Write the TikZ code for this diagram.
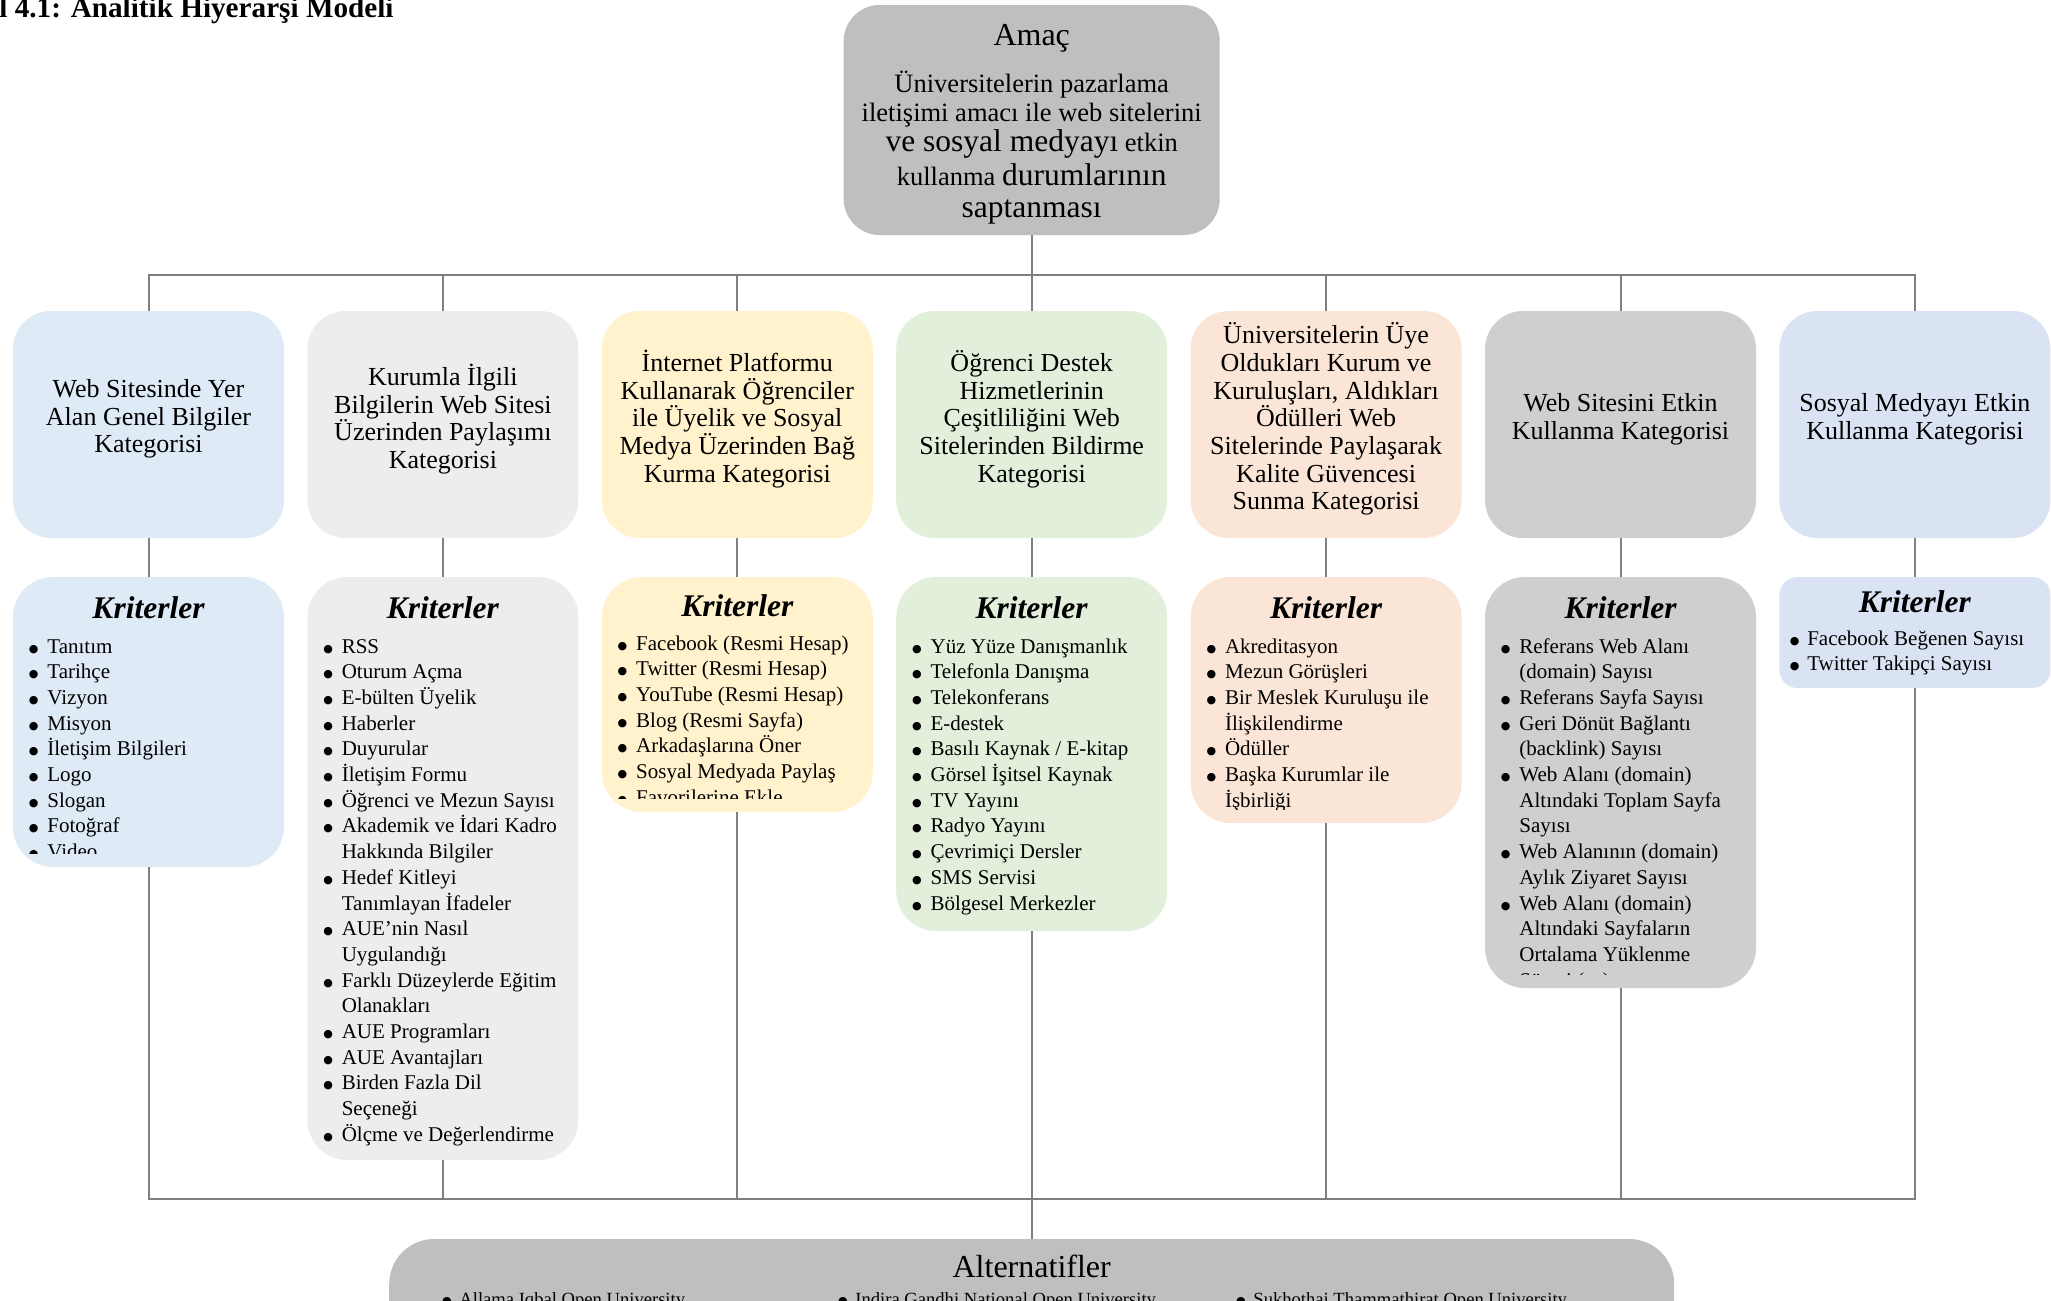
\documentclass[tikz,border=0pt]{standalone}
\usepackage{fontspec}
\setmainfont{Liberation Serif}
\newfontfamily\dotfont{DejaVu Sans}

\definecolor{linegray}{HTML}{7F7F7F}
\definecolor{amacgray}{HTML}{BFBFBF}
\definecolor{cblue}{HTML}{DEEAF6}
\definecolor{cgray}{HTML}{EDEDED}
\definecolor{cyellow}{HTML}{FFF2CC}
\definecolor{cgreen}{HTML}{E2EFDA}
\definecolor{corange}{HTML}{FBE5D6}
\definecolor{cdark}{HTML}{D0CECE}
\definecolor{clav}{HTML}{DAE3F3}

% fonts
\newcommand\critfont{\fontsize{10.5}{12.85}\selectfont\lineskiplimit=-100pt\relax}
\newcommand\catfont{\fontsize{13}{13.85}\selectfont\lineskiplimit=-100pt\relax}
\newcommand\kritfont{\fontsize{15.75}{18}\selectfont\bfseries\itshape}
\newcommand\amacfont{\fontsize{13.25}{15}\selectfont}
\newcommand\amacbig{\fontsize{15.75}{18}\selectfont}

% bullet lists with hanging indent
\newlength\bulw
\newcommand\nl{\hfil\break}
\newcommand\bigbul{\raisebox{0.5pt}{\dotfont\fontsize{5.5}{6}\selectfont ●}}
\newcommand\bitem[1]{\par\noindent\hangindent=\bulw\hangafter=1\hbox to\bulw{\bigbul\hfil}#1}
\newcommand\blist[2]{\vtop{\hsize=140pt\critfont\parindent=0pt\parskip=0pt\rightskip=0pt plus 1fil\setlength\bulw{#1}#2\par}}

\tikzset{
  conn/.style={draw=linegray, line width=1pt},
  catbox/.style={fill=#1, rounded corners=19pt, minimum width=135.5pt, minimum height=113.5pt, inner sep=0pt},
  critbox/.style 2 args={fill=#1, rounded corners=20pt, minimum width=135.5pt, minimum height=#2, inner sep=0pt},
  cattext/.style={align=center, font=\catfont, inner sep=0pt},
  krit/.style={anchor=base, font=\kritfont, inner sep=0pt},
  items/.style={anchor=base west, inner sep=0pt},
  amacline/.style={anchor=base, inner sep=0pt, font=\amacfont},
}

\begin{document}
\begin{tikzpicture}[x=0.5pt, y=-0.5pt]
\useasboundingbox (0,0) rectangle (2051,1301);
\clip (0,0) rectangle (2051,1301);

% heading
\node[anchor=base west, inner sep=0pt, font=\bfseries\fontsize{14.6}{17}\selectfont] (heading) at (-1,18) {l 4.1: Analitik Hiyerarşi Modeli};

% goal box
\node[fill=amacgray, rounded corners=18pt, minimum width=188pt, minimum height=115pt, inner sep=0pt] (amac) at (1031.7,120) {};
\node[amacline, font=\fontsize{16}{18}\selectfont] (amac-title) at (1031.7,45) {Amaç};
\node[amacline] (amac-l1) at (1031.7,92) {Üniversitelerin pazarlama};
\node[amacline] (amac-l2) at (1031.7,121) {iletişimi amacı ile web sitelerini};
\node[amacline] (amac-l3) at (1031.7,151) {{\amacbig ve sosyal medyayı} etkin};
\node[amacline] (amac-l4) at (1031.7,185) {kullanma {\amacbig durumlarının}};
\node[amacline] (amac-l5) at (1031.7,217) {{\amacbig saptanması}};

% category boxes
\node[catbox=cblue]   (cat1) at (148.5,424.5) {};
\node[catbox=cgray]   (cat2) at (442.9,424.5) {};
\node[catbox=cyellow] (cat3) at (737.3,424.5) {};
\node[catbox=cgreen]  (cat4) at (1031.7,424.5) {};
\node[catbox=corange] (cat5) at (1326.1,424.5) {};
\node[catbox=cdark]   (cat6) at (1620.5,424.5) {};
\node[catbox=clav]    (cat7) at (1914.9,424.5) {};

\node[cattext] (cat1-txt) at (148.5,419) {Web Sitesinde Yer\\Alan Genel Bilgiler\\Kategorisi};
\node[cattext] (cat2-txt) at (442.9,419) {Kurumla İlgili\\Bilgilerin Web Sitesi\\Üzerinden Paylaşımı\\Kategorisi};
\node[cattext] (cat3-txt) at (737.3,419) {İnternet Platformu\\Kullanarak Öğrenciler\\ile Üyelik ve Sosyal\\Medya Üzerinden Bağ\\Kurma Kategorisi};
\node[cattext] (cat4-txt) at (1031.7,419) {Öğrenci Destek\\Hizmetlerinin\\Çeşitliliğini Web\\Sitelerinden Bildirme\\Kategorisi};
\node[cattext] (cat5-txt) at (1326.1,419) {Üniversitelerin Üye\\Oldukları Kurum ve\\Kuruluşları, Aldıkları\\Ödülleri Web\\Sitelerinde Paylaşarak\\Kalite Güvencesi\\Sunma Kategorisi};
\node[cattext] (cat6-txt) at (1620.5,419) {Web Sitesini Etkin\\Kullanma Kategorisi};
\node[cattext] (cat7-txt) at (1914.9,419) {Sosyal Medyayı Etkin\\Kullanma Kategorisi};

% criteria boxes
\node[critbox={cblue}{145pt}]    (crit1) at (148.5,722) {};
\node[critbox={cgray}{291.5pt}]  (crit2) at (442.9,868.5) {};
\node[critbox={cyellow}{117.5pt}] (crit3) at (737.3,694.5) {};
\node[critbox={cgreen}{177pt}]   (crit4) at (1031.7,754) {};
\node[critbox={corange}{123pt}]  (crit5) at (1326.1,700) {};
\node[critbox={cdark}{205.5pt}]  (crit6) at (1620.5,782.5) {};
\node[critbox={clav}{55.5pt}, rounded corners=9pt] (crit7) at (1914.9,632.5) {};

\node[krit] (crit1-title) at (148.5,618) {Kriterler};
\node[krit] (crit2-title) at (442.9,618) {Kriterler};
\node[krit] (crit3-title) at (737.3,616) {Kriterler};
\node[krit] (crit4-title) at (1031.7,618) {Kriterler};
\node[krit] (crit5-title) at (1326.1,618) {Kriterler};
\node[krit] (crit6-title) at (1620.5,618) {Kriterler};
\node[krit] (crit7-title) at (1914.9,612) {Kriterler};

\begin{scope}
\clip (crit1.north west) rectangle ([yshift=7pt]crit1.south east);
\node[items] (crit1-list) at (28.5,653) {\blist{9.25pt}{%
\bitem{Tanıtım}\bitem{Tarihçe}\bitem{Vizyon}\bitem{Misyon}\bitem{İletişim Bilgileri}%
\bitem{Logo}\bitem{Slogan}\bitem{Fotoğraf}\bitem{Video}}};
\end{scope}

\begin{scope}
\clip (crit2.north west) rectangle ([yshift=7pt]crit2.south east);
\node[items] (crit2-list) at (322.9,653) {\blist{9.25pt}{%
\bitem{RSS}\bitem{Oturum Açma}\bitem{E-bülten Üyelik}\bitem{Haberler}\bitem{Duyurular}%
\bitem{İletişim Formu}\bitem{Öğrenci ve Mezun Sayısı}%
\bitem{Akademik ve İdari Kadro\nl Hakkında Bilgiler}%
\bitem{Hedef Kitleyi\nl Tanımlayan İfadeler}%
\bitem{AUE’nin Nasıl\nl Uygulandığı}%
\bitem{Farklı Düzeylerde Eğitim\nl Olanakları}%
\bitem{AUE Programları}\bitem{AUE Avantajları}%
\bitem{Birden Fazla Dil\nl Seçeneği}%
\bitem{Ölçme ve Değerlendirme}}};
\end{scope}

\begin{scope}
\clip (crit3.north west) rectangle ([yshift=7pt]crit3.south east);
\node[items] (crit3-list) at (617.3,650) {\blist{9.25pt}{%
\bitem{Facebook (Resmi Hesap)}\bitem{Twitter (Resmi Hesap)}\bitem{YouTube (Resmi Hesap)}%
\bitem{Blog (Resmi Sayfa)}\bitem{Arkadaşlarına Öner}\bitem{Sosyal Medyada Paylaş}%
\bitem{Favorilerine Ekle}}};
\end{scope}

\begin{scope}
\clip (crit4.north west) rectangle ([yshift=7pt]crit4.south east);
\node[items] (crit4-list) at (911.7,653) {\blist{9.25pt}{%
\bitem{Yüz Yüze Danışmanlık}\bitem{Telefonla Danışma}\bitem{Telekonferans}\bitem{E-destek}%
\bitem{Basılı Kaynak / E-kitap}\bitem{Görsel İşitsel Kaynak}\bitem{TV Yayını}%
\bitem{Radyo Yayını}\bitem{Çevrimiçi Dersler}\bitem{SMS Servisi}\bitem{Bölgesel Merkezler}}};
\end{scope}

\begin{scope}
\clip (crit5.north west) rectangle ([yshift=7pt]crit5.south east);
\node[items] (crit5-list) at (1206.1,653) {\blist{9.25pt}{%
\bitem{Akreditasyon}\bitem{Mezun Görüşleri}%
\bitem{Bir Meslek Kuruluşu ile\nl İlişkilendirme}%
\bitem{Ödüller}%
\bitem{Başka Kurumlar ile\nl İşbirliği}}};
\end{scope}

\begin{scope}
\clip (crit6.north west) rectangle ([yshift=7pt]crit6.south east);
\node[items] (crit6-list) at (1500.5,653) {\blist{9.25pt}{%
\bitem{Referans Web Alanı\nl (domain) Sayısı}%
\bitem{Referans Sayfa Sayısı}%
\bitem{Geri Dönüt Bağlantı\nl (backlink) Sayısı}%
\bitem{Web Alanı (domain)\nl Altındaki Toplam Sayfa\nl Sayısı}%
\bitem{Web Alanının (domain)\nl Aylık Ziyaret Sayısı}%
\bitem{Web Alanı (domain)\nl Altındaki Sayfaların\nl Ortalama Yüklenme\nl Süresi (sn)}}};
\end{scope}

\node[items] (crit7-list) at (1789.4,645) {\blist{8.75pt}{%
\bitem{Facebook Beğenen Sayısı}\bitem{Twitter Takipçi Sayısı}}};

% alternatives box
\node[fill=amacgray, rounded corners=22.5pt, minimum width=642.5pt, minimum height=100pt, inner sep=0pt] (alt) at (1031.7,1339) {};
\node[anchor=base, inner sep=0pt, font=\fontsize{16}{18}\selectfont] (alt-title) at (1031.7,1277) {Alternatifler};
\node[items, font=\fontsize{9.3}{11}\selectfont] (alt1) at (441.7,1305) {\hbox to 8.65pt{\bigbul\hfil}Allama Iqbal Open University};
\node[items, font=\fontsize{9.3}{11}\selectfont] (alt2) at (837.7,1305) {\hbox to 8.65pt{\bigbul\hfil}Indira Gandhi National Open University};
\node[items, font=\fontsize{9.3}{11}\selectfont] (alt3) at (1235.7,1305) {\hbox to 8.65pt{\bigbul\hfil}Sukhothai Thammathirat Open University};

% connectors
\coordinate (tophub) at (1031.7,275);
\coordinate (bothub) at (1031.7,1199);
\draw[conn] (amac.south) -- (tophub);
\foreach \i in {1,...,7} {
  \draw[conn] (tophub) -| (cat\i.north);
  \draw[conn] (cat\i.south) -- (crit\i.north);
  \draw[conn] (crit\i.south) |- (bothub);
}
\draw[conn] (bothub) -- (alt.north);
\end{tikzpicture}
\end{document}
